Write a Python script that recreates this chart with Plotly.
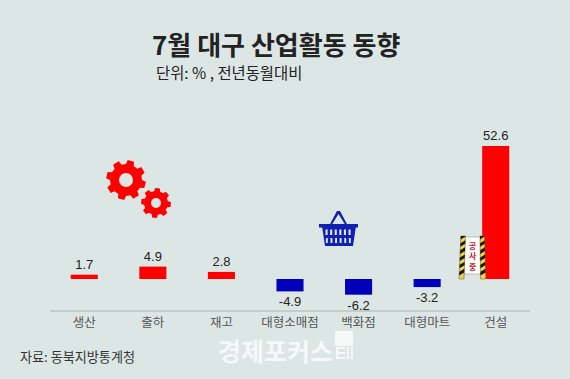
import math
import plotly.graph_objects as go

categories = ["생산", "출하", "재고", "대형소매점", "백화점", "대형마트", "건설"]
values = [1.7, 4.9, 2.8, -4.9, -6.2, -3.2, 52.6]
value_labels = ["1.7", "4.9", "2.8", "-4.9", "-6.2", "-3.2", "52.6"]
title_text = "7월 대구 산업활동 동향"
subtitle_text = "단위: % , 전년동월대비"
source_text = "자료: 동북지방통계청"
watermark_text = "경제포커스"
sign_chars = ["공", "사", "중"]

W, H = 570, 379
L, R, T, B = 50, 530, 100, 311
BG = "#dce7e5"
RED = "#ff0000"
BLUE = "#0000bb"
BASKET = "#1020b0"
KR = "Noto Sans CJK KR"


def fx(x):
    return (x - L) / (R - L)


def fy(y):
    return (B - y) / (B - T)


def poly(points, fill, line=None, width=0):
    d = "M" + " L".join(f"{fx(x):.5f},{fy(y):.5f}" for x, y in points) + " Z"
    return dict(type="path", xref="paper", yref="paper", path=d, fillcolor=fill,
                line=dict(color=line or fill, width=width), layer="above")


def circle(cx, cy, r, fill):
    return dict(type="circle", xref="paper", yref="paper", x0=fx(cx - r), x1=fx(cx + r),
                y0=fy(cy + r), y1=fy(cy - r), fillcolor=fill, line=dict(width=0), layer="above")


def rect(x0, y0, x1, y1, fill, line=None, width=0):
    return poly([(x0, y0), (x1, y0), (x1, y1), (x0, y1)], fill, line, width)


def gear(cx, cy, ro, ri, hole, teeth, rot):
    pts = []
    step = 2 * math.pi / teeth
    for i in range(teeth):
        a = rot + i * step
        for off, r in ((-0.32, ri), (-0.21, ro), (0.21, ro), (0.32, ri)):
            t = a + off * step
            pts.append((cx + r * math.cos(t), cy + r * math.sin(t)))
    return [poly(pts, RED), circle(cx, cy, hole, BG)]


def leg(xt0, xt1, xb0, xb1, y0, y1):
    out = [poly([(xt0, y0), (xt1, y0), (xb1, y1), (xb0, y1)], "#f5d33c", "#555555", 0.5)]
    n = 6
    h = (y1 - y0) / n
    for i in range(n):
        ya = y0 + i * h
        yb = ya + h * 0.5
        sl = 3
        def lx(y): return xt0 + (xb0 - xt0) * (y - y0) / (y1 - y0)
        def rx(y): return xt1 + (xb1 - xt1) * (y - y0) / (y1 - y0)
        ra, rb = max(ya - sl, y0), max(yb - sl, y0)
        out.append(poly([(lx(ya), ya), (rx(ra), ra), (rx(rb), rb), (lx(yb), yb)], "#1a1a1a"))
    return out


shapes = []
shapes += gear(126, 180, 20, 16, 7, 8, 0.25)
shapes += gear(156, 203, 15, 12, 5, 8, 0.1)

# basket
shapes.append(poly([(329, 226), (337, 211), (340, 211), (348, 226), (346, 226), (338.5, 214), (331, 226)], BASKET))
shapes.append(poly([(322, 226), (356, 226), (353, 246), (325, 246)], BASKET))
shapes.append(rect(319, 224, 358, 227.5, BASKET))
for i in range(6):
    x = 325.5 + i * 4.6
    shapes.append(rect(x, 229.5, x + 2.1, 235, "#dce7ee"))
    shapes.append(rect(x + 0.4, 238, x + 2.3, 243, "#dce7ee"))

# construction sign
shapes.append(rect(464, 237, 481, 274, "#ffffff", "#888888", 0.5))
shapes += leg(460.8, 465.5, 459, 464, 236, 279)
shapes += leg(480, 484.5, 480.5, 485.8, 236, 279)

# watermark icon
shapes.append(rect(335, 331, 353, 346, "#f5f9f8"))
shapes.append(rect(336, 347, 338, 359, "#f5f9f8"))
shapes.append(rect(336, 347, 345, 349, "#f5f9f8"))
shapes.append(rect(336, 352, 345, 354, "#f5f9f8"))
shapes.append(rect(336, 357, 345, 359, "#f5f9f8"))
shapes.append(rect(347, 347, 349, 359, "#f5f9f8"))
shapes.append(rect(351, 347, 353, 359, "#f5f9f8"))


def note(x, y, text, size, color, bold=False, anchor="left", family=KR):
    t = f"<b>{text}</b>" if bold else text
    return dict(xref="paper", yref="paper", x=fx(x), y=fy(y), text=t, showarrow=False,
                xanchor=anchor, yanchor="middle", xshift=0, yshift=0,
                font=dict(size=size, color=color, family=family))


annotations = [
    note(150, 44, title_text, 26, "#222222", True),
    note(154, 72, subtitle_text, 15.4, "#222222"),
    note(18, 356, source_text, 13.1, "#333333"),
    note(275, 350, watermark_text, 25, "#f5f9f8", True, "center"),
]
for ch, y in zip(sign_chars, (245, 255.5, 266)):
    annotations.append(note(472.5, y, ch, 7.8, "#cc1122", True, "center"))

fig = go.Figure(go.Bar(
    x=categories, y=values,
    marker=dict(color=[RED if v > 0 else BLUE for v in values], line=dict(width=0)),
    text=value_labels, textposition="outside", cliponaxis=False,
    textfont=dict(size=13, color="#222222", family="Liberation Sans"),
    width=0.395, hoverinfo="skip",
))
fig.update_layout(
    width=W, height=H, autosize=False, showlegend=False,
    margin=dict(l=L, r=W - R, t=T, b=H - B, pad=0),
    paper_bgcolor=BG, plot_bgcolor=BG,
    shapes=shapes, annotations=annotations,
    xaxis=dict(type="category", categoryorder="array", categoryarray=categories,
               showline=False, ticks="", showgrid=False, zeroline=False, ticklabelstandoff=2,
               tickfont=dict(size=12.5, color="#555555", family=KR), anchor="free", position=0),
    yaxis=dict(range=[-12.65, 70.75], visible=False, showgrid=False, zeroline=False),
)
fig.add_shape(type="line", xref="paper", yref="paper", x0=0, x1=1, y0=0, y1=0,
              line=dict(color="#a8b2b2", width=1))
fig.write_html("out.html", config={"displayModeBar": False},
               post_script="document.body.style.margin='0';document.documentElement.style.overflow='hidden';")
